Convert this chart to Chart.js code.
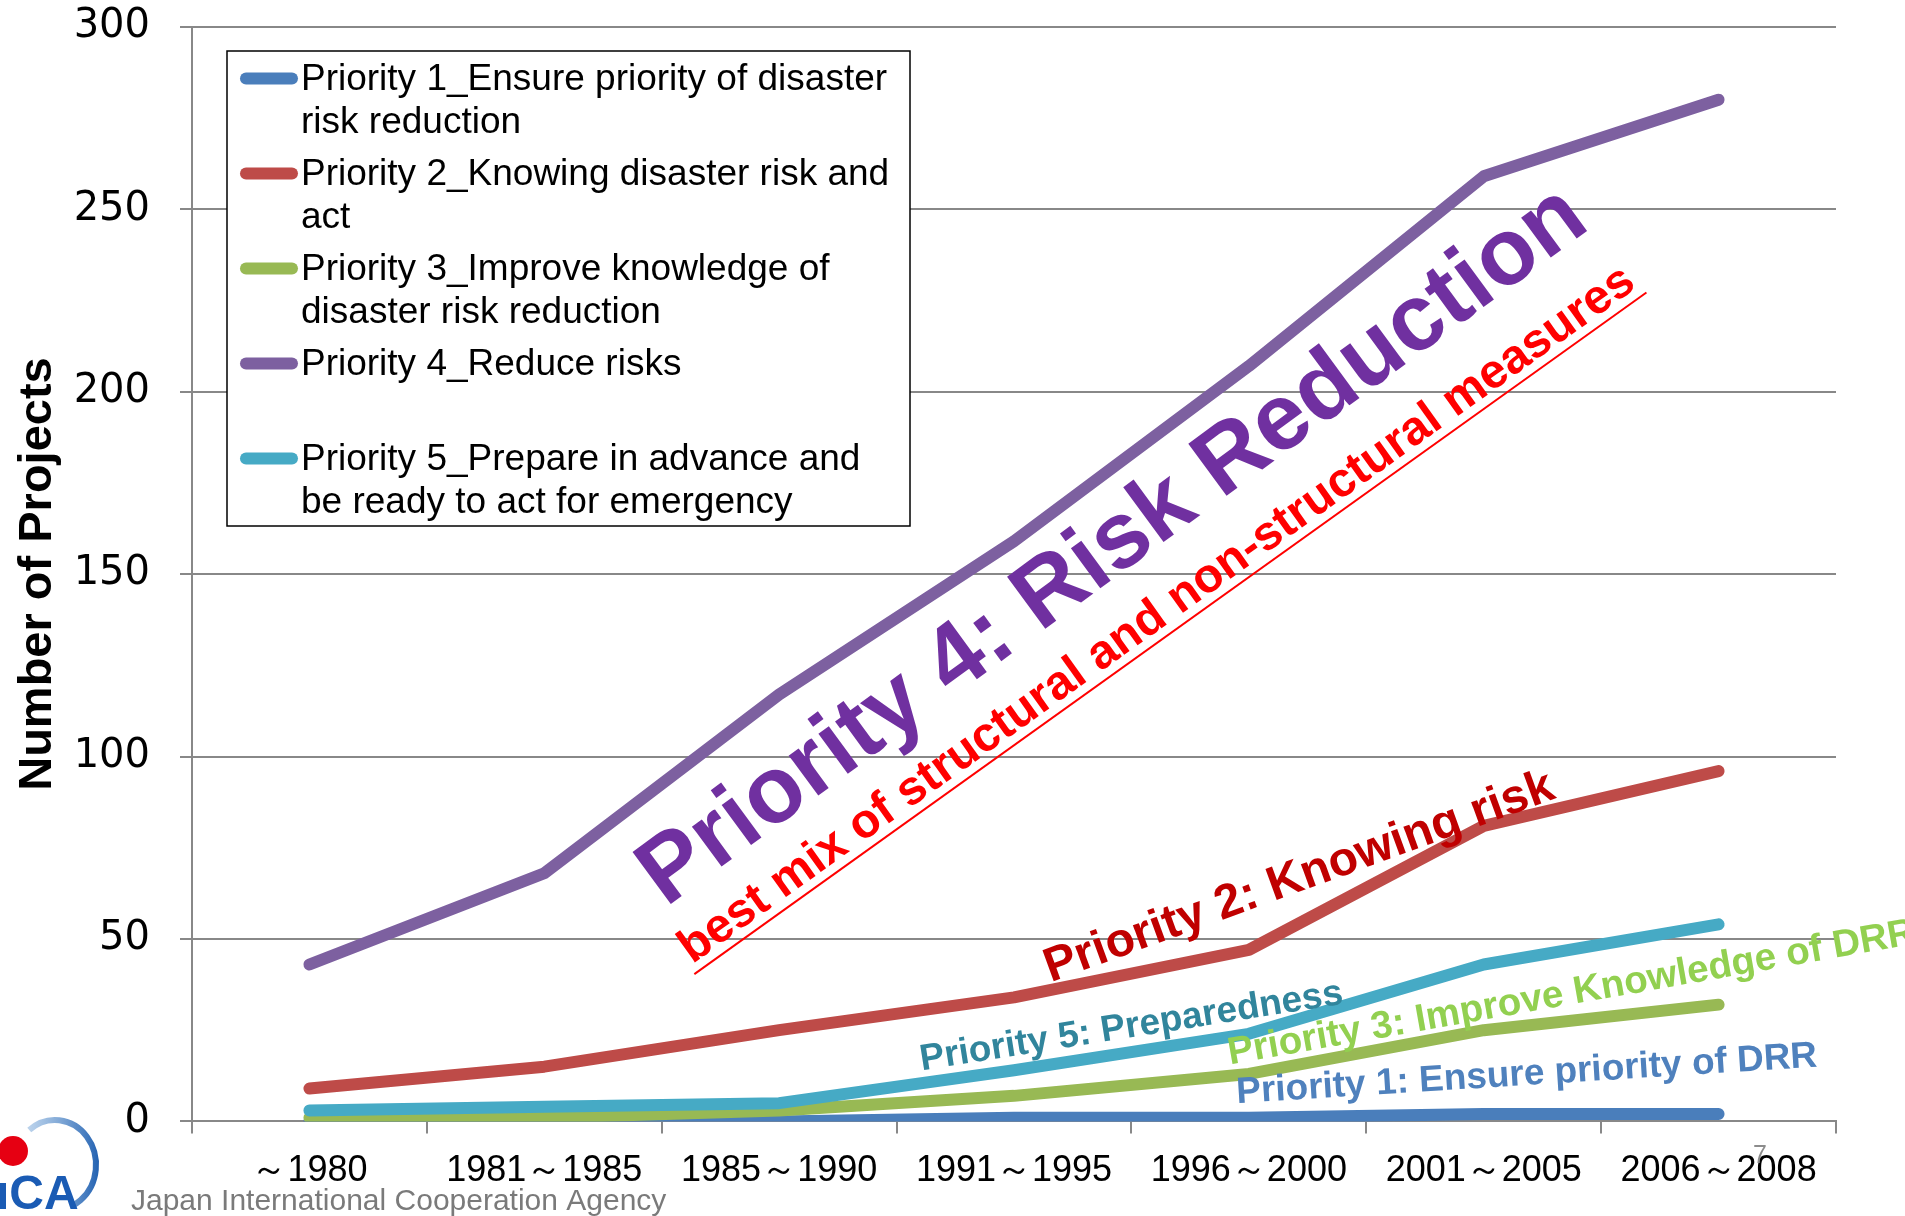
<!DOCTYPE html>
<html><head><meta charset="utf-8">
<script src="https://cdn.jsdelivr.net/npm/chart.js@4.4.1/dist/chart.umd.min.js"></script>
<style>html,body{margin:0;padding:0;background:#fff;overflow:hidden}canvas{display:block}</style>
</head><body>
<canvas id="c" width="1905" height="1216" style="width:1905px;height:1216px"></canvas>
<script>
// ---- data ----
const categories = ['～1980','1981～1985','1985～1990','1991～1995','1996～2000','2001～2005','2006～2008'];
const priority1 = [0, 0, 0, 1, 1, 2, 2];
const priority2 = [9, 15, 25, 34, 47, 81, 96];
const priority3 = [1, 1, 3, 7, 13, 25, 32];
const priority4 = [43, 68, 117, 159, 207, 259, 280];
const priority5 = [3, 4, 5, 14, 24, 43, 54];
const yTickValues = [0, 50, 100, 150, 200, 250, 300];
const seriesNames = [
  ['Priority 1_Ensure priority of disaster', 'risk reduction'],
  ['Priority 2_Knowing disaster risk and', 'act'],
  ['Priority 3_Improve knowledge of', 'disaster risk reduction'],
  ['Priority 4_Reduce risks', ''],
  ['Priority 5_Prepare in advance and', 'be ready to act for emergency']
];
const seriesColors = ['#4A7EBB', '#BE4B48', '#98B954', '#7D60A0', '#46AAC5'];
const yTitle = 'Number of Projects';

// annotation texts (anchored in data units: category index, value)
const notes = [
  {text:'Priority 4: Risk Reduction', at:[3.423,157.5], angle:-36.3, size:94, color:'#7030A0', align:'center', base:'middle'},
  {text:'best mix of structural and non-structural measures', at:[3.61,138.8], angle:-35.6, size:48, color:'#FF0000', align:'center', base:'middle', underline:true},
  {text:'Priority 2: Knowing risk', at:[4.215,66.8], angle:-20, size:48, color:'#C00000', align:'center', base:'middle'},
  {text:'Priority 5: Preparedness', at:[3.5,25.9], angle:-9, size:37, color:'#31859C', align:'center', base:'middle'},
  {text:'Priority 3: Improve Knowledge of DRR', at:[3.92,15.6], angle:-10, size:38.5, color:'#92D050', align:'left', base:'alphabetic'},
  {text:'Priority 1: Ensure priority of DRR', at:[3.95,5.0], angle:-3.6, size:37, color:'#4F81BD', align:'left', base:'alphabetic'}
];

const FONT = '"Liberation Sans", Arial, sans-serif';
const seriesData = [priority1, priority2, priority3, priority4, priority5];

const datasets = seriesData.map((d, i) => ({
  label: seriesNames[i].join(' '),
  data: d,
  borderColor: seriesColors[i],
  backgroundColor: seriesColors[i],
  borderWidth: 12,
  borderCapStyle: 'round',
  borderJoinStyle: 'round',
  pointRadius: 0,
  tension: 0,
  fill: false,
  order: 5 - i
}));

const legendPlugin = {
  id: 'customLegend',
  afterDraw(chart) {
    const ctx = chart.ctx;
    ctx.save();
    const bx = 227, by = 51, bw = 683, bh = 475;
    ctx.fillStyle = '#fff';
    ctx.fillRect(bx, by, bw, bh);
    ctx.strokeStyle = '#000';
    ctx.lineWidth = 1.5;
    ctx.strokeRect(bx, by, bw, bh);
    ctx.font = '37px ' + FONT;
    ctx.textAlign = 'left';
    ctx.textBaseline = 'alphabetic';
    chart.data.datasets.forEach((ds, i) => {
      const base = 89.5 + i * 95;
      ctx.strokeStyle = ds.borderColor;
      ctx.lineWidth = 12;
      ctx.lineCap = 'round';
      ctx.beginPath();
      ctx.moveTo(246, base - 11);
      ctx.lineTo(292, base - 11);
      ctx.stroke();
      ctx.fillStyle = '#000';
      seriesNames[i].forEach((line, k) => ctx.fillText(line, 301, base + k * 43));
    });
    ctx.restore();
  }
};

const notesPlugin = {
  id: 'notes',
  afterDatasetsDraw(chart) {
    const {ctx, scales: {x, y}} = chart;
    notes.forEach(n => {
      ctx.save();
      ctx.translate(x.getPixelForValue(n.at[0]), y.getPixelForValue(n.at[1]));
      ctx.rotate(n.angle * Math.PI / 180);
      ctx.font = 'bold ' + n.size + 'px ' + FONT;
      ctx.fillStyle = n.color;
      ctx.textAlign = n.align;
      ctx.textBaseline = n.base;
      ctx.fillText(n.text, 0, 0);
      if (n.underline) {
        const w = ctx.measureText(n.text).width;
        ctx.strokeStyle = n.color;
        ctx.lineWidth = 2;
        ctx.beginPath();
        ctx.moveTo(-w / 2 - 4, n.size * 0.47);
        ctx.lineTo(w / 2 + 4, n.size * 0.47);
        ctx.stroke();
      }
      ctx.restore();
    });
  }
};

const footerPlugin = {
  id: 'footer',
  afterDraw(chart) {
    const ctx = chart.ctx;
    ctx.save();
    // logo ring
    const grad = ctx.createLinearGradient(10, 0, 100, 0);
    grad.addColorStop(0, 'rgba(120,170,220,0.3)');
    grad.addColorStop(1, '#1F5FB0');
    ctx.strokeStyle = grad;
    ctx.lineWidth = 6;
    ctx.beginPath();
    ctx.ellipse(55, 1165, 41, 45, 0, -2.25, 1.15);
    ctx.stroke();
    // red dot
    ctx.fillStyle = '#E60012';
    ctx.beginPath();
    ctx.arc(13, 1151, 15, 0, Math.PI * 2);
    ctx.fill();
    // letters
    ctx.fillStyle = '#1A5BB4';
    ctx.font = 'bold 48px ' + FONT;
    ctx.textAlign = 'left';
    ctx.textBaseline = 'alphabetic';
    ctx.fillText('ıCA', -4, 1209);
    // agency name
    ctx.fillStyle = '#7A7A7A';
    ctx.font = '30px ' + FONT;
    ctx.fillText('Japan International Cooperation Agency', 131, 1210);
    // page number
    ctx.fillStyle = '#8C8C8C';
    ctx.font = '25px ' + FONT;
    ctx.textAlign = 'center';
    ctx.fillText('7', 1760, 1163);
    ctx.restore();
  }
};

new Chart(document.getElementById('c'), {
  type: 'line',
  data: { labels: categories, datasets },
  options: {
    responsive: false,
    animation: false,
    events: [],
    layout: { padding: { top: 0, right: 69, bottom: 0, left: 0 } },
    plugins: { legend: { display: false }, tooltip: { enabled: false }, title: { display: false } },
    scales: {
      x: {
        type: 'category',
        offset: true,
        grid: { display: true, drawOnChartArea: false, drawTicks: true, tickLength: 12, offset: true, color: '#888', lineWidth: 2 },
        border: { display: true, color: '#888', width: 2 },
        ticks: { color: '#000', font: { family: FONT, size: 36 }, padding: 16, maxRotation: 0, autoSkip: false },
        afterFit(s) { s.height = 94.6; }
      },
      y: {
        min: yTickValues[0],
        max: yTickValues[yTickValues.length - 1],
        grid: { color: '#888', lineWidth: 2, tickLength: 12, drawTicks: true },
        border: { display: true, color: '#888', width: 2 },
        ticks: { stepSize: yTickValues[1] - yTickValues[0], color: '#000', font: { family: '"DejaVu Sans", sans-serif', size: 40 }, padding: 30 },
        title: { display: true, text: yTitle, color: '#000', font: { family: FONT, size: 47, weight: 'bold' }, padding: { top: 10, bottom: 0 } },
        afterFit(s) { s.width = 192; s.paddingTop = 26.7; s.paddingBottom = 0; }
      }
    }
  },
  plugins: [notesPlugin, legendPlugin, footerPlugin]
});
</script>
</body></html>
